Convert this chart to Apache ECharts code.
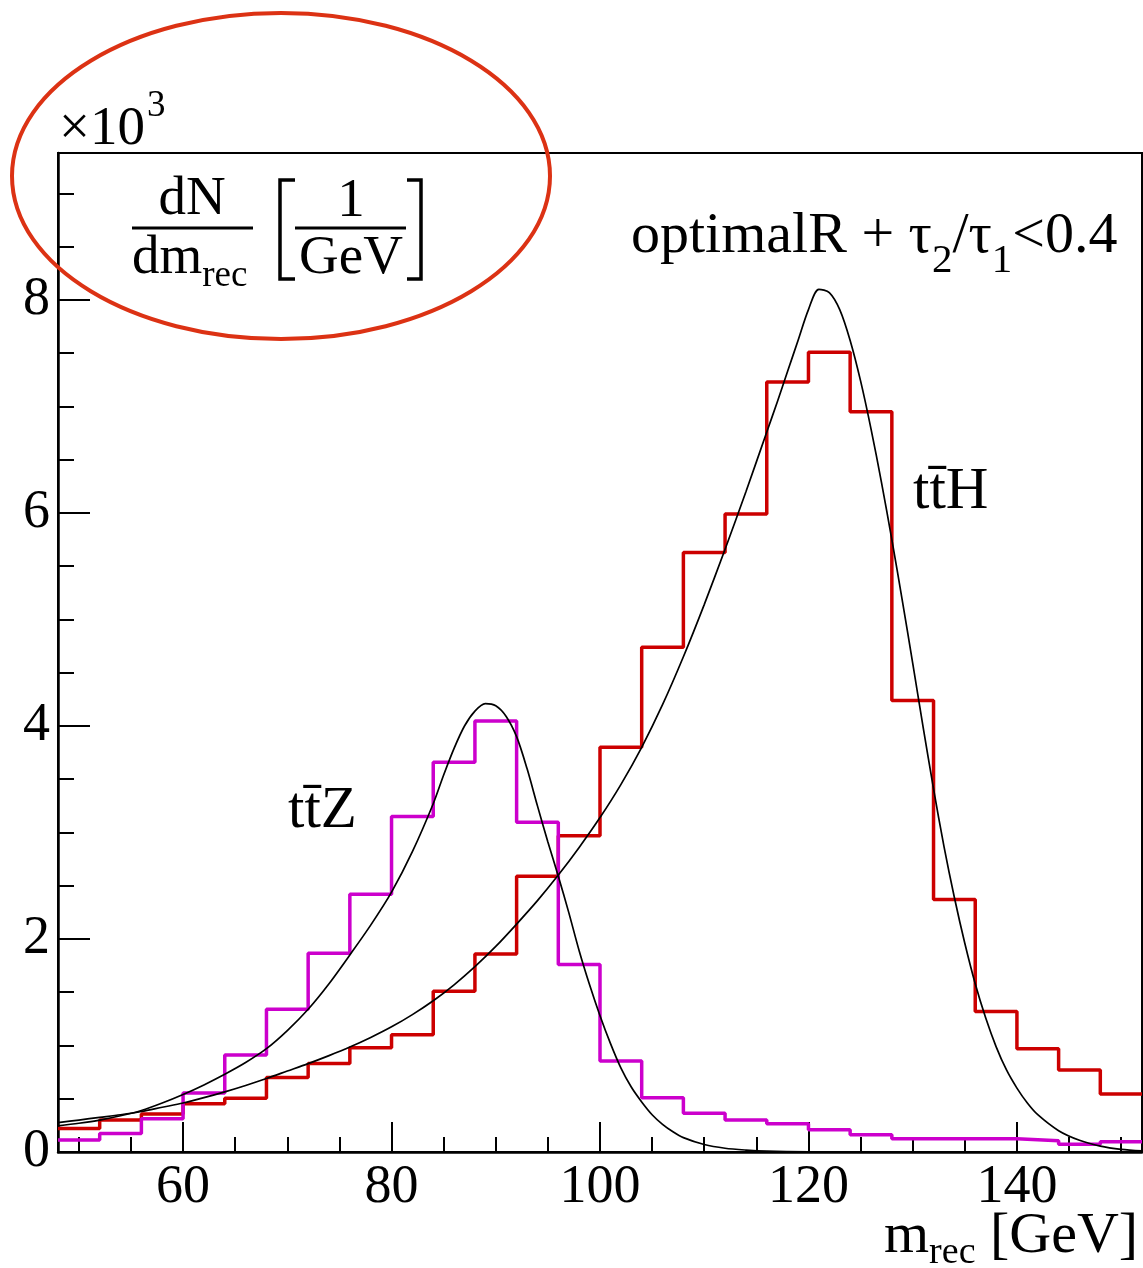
<!DOCTYPE html>
<html>
<head>
<meta charset="utf-8">
<script src="https://cdn.jsdelivr.net/npm/echarts@6/dist/echarts.min.js"></script>
<style>
html,body{margin:0;padding:0;background:#fff;}
#chart{width:1143px;height:1268px;}
</style>
</head>
<body>
<div id="chart"></div>
<script>
// ---- data ----
const binEdges = [48,52,56,60,64,68,72,76,80,84,88,92,96,100,104,108,112,116,120,124,128,132,136,140,144,148,152];
const ttHCounts = [0.22,0.30,0.357,0.452,0.505,0.70,0.83,0.98,1.10,1.51,1.86,2.59,2.97,3.80,4.74,5.63,5.99,7.23,7.51,6.95,4.24,2.37,1.32,0.97,0.77,0.545];
const ttZCounts = [0.112,0.173,0.313,0.555,0.91,1.34,1.865,2.42,3.15,3.66,4.047,3.096,1.76,0.854,0.51,0.363,0.30,0.265,0.21,0.163,0.124,0.124,0.124,0.106,0.072,0.096];
const ttZFitX = [48,50,52,54,56,58,60,62,64,66,68,70,72,74,76,78,80,82,84,85,86,87,88,89,90,91,92,93,94,95,96,97,98,99,100,101,102,103,104,105,106,107,108,110,112,114,116,120,130,152];
const ttZFitY = [0.245,0.27,0.30,0.34,0.39,0.46,0.54,0.63,0.73,0.84,0.97,1.14,1.34,1.58,1.85,2.13,2.44,2.82,3.27,3.54,3.79,4.00,4.14,4.21,4.19,4.09,3.90,3.60,3.25,2.91,2.59,2.25,1.89,1.57,1.28,1.02,0.79,0.61,0.47,0.35,0.26,0.19,0.135,0.07,0.035,0.018,0.008,0.002,0,0];
const ttHFitX = [48,50,52,54,56,58,60,62,64,66,68,70,72,74,76,78,80,82,84,86,88,90,92,94,96,98,100,102,104,106,108,110,112,114,116,117,118,119,120,121,122,123,124,125,126,127,128,129,130,131,132,133,134,135,136,137,138,139,140,141,142,144,146,148,150,152];
const ttHFitY = [0.275,0.30,0.325,0.35,0.38,0.42,0.46,0.51,0.565,0.625,0.69,0.76,0.83,0.905,0.985,1.075,1.175,1.29,1.42,1.57,1.74,1.93,2.14,2.36,2.60,2.86,3.14,3.45,3.80,4.20,4.65,5.14,5.66,6.20,6.76,7.04,7.33,7.62,7.91,8.10,8.07,7.91,7.62,7.24,6.79,6.29,5.75,5.18,4.59,3.99,3.41,2.87,2.39,1.96,1.58,1.26,0.99,0.77,0.60,0.46,0.35,0.20,0.11,0.055,0.025,0.01];
const xMajorTicks = [60,80,100,120,140];
const xMinorTicks = [50,55,65,70,75,85,90,95,105,110,115,125,130,135,145,150];
const yMajorTicks = [0,2,4,6,8];
const yMinorTicks = [0.5,1,1.5,2.5,3,3.5,4.5,5,5.5,6.5,7,7.5,8.5,9];
const xRange = [48,152];
const yRange = [0,9.38];

// ---- helpers ----
const FONT = '"Liberation Serif", "Times New Roman", serif';
const mctx = document.createElement('canvas').getContext('2d');
function measure(str, size){ mctx.font = size + 'px ' + FONT; return mctx.measureText(str).width; }
function txt(str, x, baseline, size, align){
  return {type:'text', x:x, y:baseline - 0.3375*size, z:100,
    style:{text:str, fontSize:size, fontFamily:FONT, fill:'#000', align:align||'left', verticalAlign:'middle'}};
}
function seq(pieces, x, baseline){
  const out = [];
  let cx = x;
  pieces.forEach(p => { out.push(txt(p[0], cx, baseline + (p[2]||0), p[1], 'left')); cx += measure(p[0], p[1]); });
  return out;
}
function line(x1,y1,x2,y2,w){ return {type:'line', z:100, shape:{x1,y1,x2,y2}, style:{stroke:'#000', lineWidth:w||3}}; }
function poly(pts,w){ return {type:'polyline', z:100, shape:{points:pts}, style:{stroke:'#000', fill:null, lineWidth:w||3}}; }
function histData(vals){ return binEdges.map((e,i)=>[e, vals[Math.min(i, vals.length-1)]]); }
function zip(xs, ys){ return xs.map((x,i)=>[x, ys[i]]); }

const chart = echarts.init(document.getElementById('chart'), null, {renderer:'canvas'});

const graphics = [].concat(
  seq([['\u00d710',55,0]], 59, 148),
  [txt('3', 147, 119, 37)],
  [txt('dN', 192, 218, 55, 'center')],
  [line(132,228,253,228,3)],
  seq([['dm',55,0],['rec',37,12]], 132, 277),
  [poly([[295,180],[280,180],[280,279],[295,279]],3.5)],
  [txt('1', 351, 220, 55, 'center')],
  [line(295,228,406,228,3)],
  [txt('GeV', 351, 277, 55, 'center')],
  [poly([[407,180],[421,180],[421,279],[407,279]],3.5)],
  seq([['optimalR + \u03c4',58,0],['2',41,19],['/\u03c4',58,0],['1',41,19],['<0.4',58,0]], 631, 256),
  seq([['tt\u0304H',59,0]], 913, 512),
  seq([['tt\u0304Z',59,0]], 288, 831),
  seq([['m',58,0],['rec',38,10],[' [GeV]',58,0]], 884, 1256),
  [{type:'ellipse', z:200, shape:{cx:281, cy:176, rx:269, ry:163}, style:{fill:null, stroke:'#dc3214', lineWidth:4}}]
);

const axisTextStyle = {fontFamily:FONT, fontSize:54, color:'#000'};

chart.setOption({
  animation:false,
  backgroundColor:'#fff',
  grid:{left:58, top:153, width:1084, height:999, show:true, borderColor:'#000', borderWidth:2, backgroundColor:'transparent'},
  xAxis:[
    {type:'value', min:xRange[0], max:xRange[1], position:'bottom',
     axisLine:{lineStyle:{color:'#000', width:2.5}},
     axisTick:{inside:true, length:30, customValues:xMajorTicks, lineStyle:{color:'#000', width:2}},
     axisLabel:Object.assign({customValues:xMajorTicks, margin:9}, axisTextStyle),
     splitLine:{show:false}},
    {type:'value', min:xRange[0], max:xRange[1], position:'bottom', offset:0,
     axisLine:{show:false},
     axisTick:{inside:true, length:15, customValues:xMinorTicks, lineStyle:{color:'#000', width:2}},
     axisLabel:{show:false}, splitLine:{show:false}}
  ],
  yAxis:[
    {type:'value', min:yRange[0], max:yRange[1], position:'left',
     axisLine:{lineStyle:{color:'#000', width:2.5}},
     axisTick:{inside:true, length:32, customValues:yMajorTicks, lineStyle:{color:'#000', width:2}},
     axisLabel:Object.assign({customValues:yMajorTicks, margin:8}, axisTextStyle),
     splitLine:{show:false}},
    {type:'value', min:yRange[0], max:yRange[1], position:'left', offset:0,
     axisLine:{show:false},
     axisTick:{inside:true, length:16, customValues:yMinorTicks, lineStyle:{color:'#000', width:2}},
     axisLabel:{show:false}, splitLine:{show:false}}
  ],
  series:[
    {name:'ttH', type:'line', step:'end', xAxisIndex:0, yAxisIndex:0, symbol:'none', data:histData(ttHCounts),
     lineStyle:{color:'#cc0000', width:3.5}, z:2},
    {name:'ttZ', type:'line', step:'end', xAxisIndex:0, yAxisIndex:0, symbol:'none', data:histData(ttZCounts),
     lineStyle:{color:'#cc00cc', width:3.5}, z:3},
    {name:'ttH fit', type:'line', xAxisIndex:0, yAxisIndex:0, symbol:'none', smooth:0.3, data:zip(ttHFitX, ttHFitY),
     lineStyle:{color:'#000', width:1.7}, z:4},
    {name:'ttZ fit', type:'line', xAxisIndex:0, yAxisIndex:0, symbol:'none', smooth:0.3, data:zip(ttZFitX, ttZFitY),
     lineStyle:{color:'#000', width:1.7}, z:4}
  ],
  graphic:graphics
});
</script>
</body>
</html>
